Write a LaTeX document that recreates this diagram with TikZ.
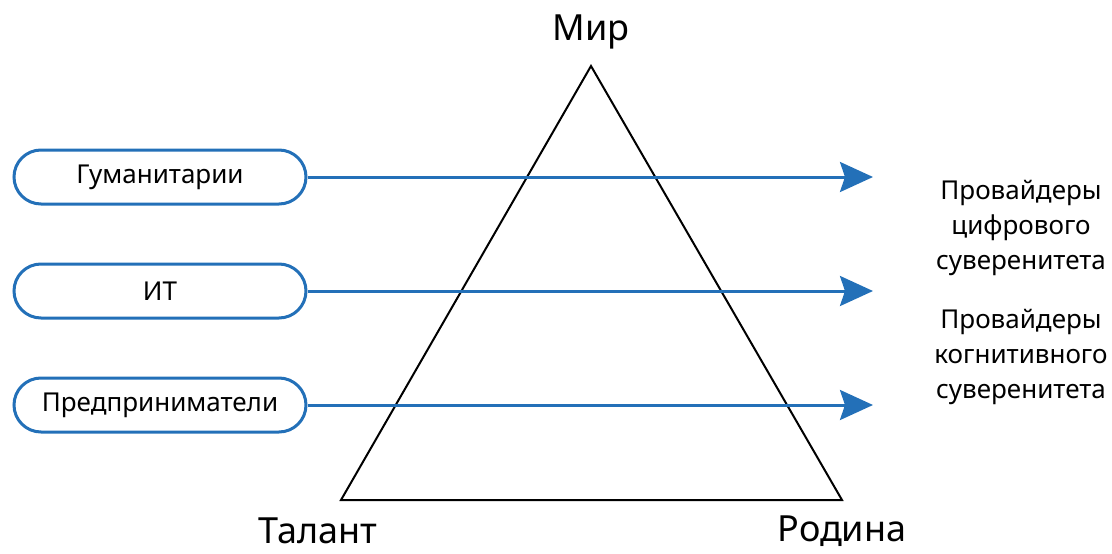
\documentclass[tikz,border=0pt]{standalone}
\usepackage{fontspec}
\setmainfont{Noto Sans}
\usetikzlibrary{arrows.meta}
\definecolor{flowblue}{HTML}{2370B8}
\begin{document}
\begin{tikzpicture}[x=1pt,y=-1pt,
    group/.style={draw=flowblue,line width=3pt,rounded corners=27pt,fill=white,
      minimum width=292pt,minimum height=54pt,inner sep=0pt,
      font=\fontsize{26}{30}\selectfont},
    corner/.style={font=\fontsize{36}{42}\selectfont,inner sep=0pt},
    goal/.style={align=center,inner sep=0pt,font=\fontsize{26}{35}\selectfont},
    flow/.style={draw=flowblue,line width=3pt,-{Stealth[length=33pt,width=30pt,inset=5pt]}}]
  \useasboundingbox (0,0) rectangle (1112,554);
  % triangle
  \coordinate (top) at (591,66);
  \coordinate (left) at (341,500);
  \coordinate (right) at (842,500);
  \draw[line width=2pt,line join=miter] (top) -- (left) -- (right) -- cycle;
  \node[corner] (mir) at (591,32) {Мир};
  \node[corner] (talant) at (318,531) {Талант};
  \node[corner] (rodina) at (842,531) {Родина};
  % groups
  \node[group] (hum) at (160,177) {\raisebox{-4pt}{Гуманитарии}};
  \node[group] (it) at (160,291) {\raisebox{-4pt}{ИТ}};
  \node[group] (biz) at (160,405) {\raisebox{-4pt}{Предприниматели}};
  \coordinate (humend) at (873,177);
  \coordinate (itend) at (873,291);
  \coordinate (bizend) at (873,405);
  \draw[flow] (hum.east) -- (humend);
  \draw[flow] (it.east) -- (itend);
  \draw[flow] (biz.east) -- (bizend);
  % providers
  \node[goal] (digital) at (1021,228) {Провайдеры\\цифрового\\суверенитета};
  \node[goal] (cognitive) at (1021,357) {Провайдеры\\когнитивного\\суверенитета};
\end{tikzpicture}
\end{document}
